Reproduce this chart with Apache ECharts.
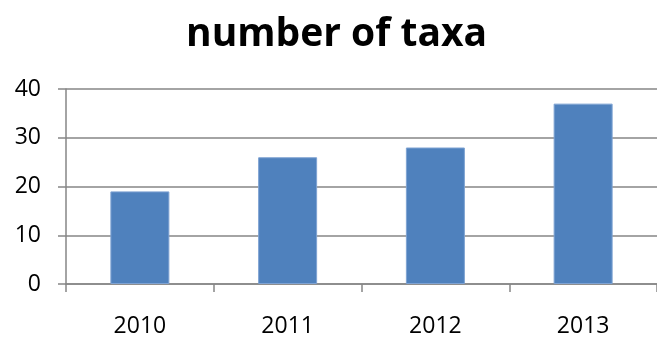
<!DOCTYPE html>
<html><head><meta charset="utf-8">
<script src="https://cdn.jsdelivr.net/npm/echarts@6/dist/echarts.min.js"></script>
<style>html,body{margin:0;padding:0;background:#fff}#c{width:657px;height:339px}</style>
</head><body><div id="c"></div>
<script>
const categories = ['2010', '2011', '2012', '2013'];
const taxaCounts = [19, 26, 28, 37];
const yTicks = [0, 10, 20, 30, 40];

const chart = echarts.init(document.getElementById('c'), null, {renderer: 'canvas'});
const lineCol = '#868686';
chart.setOption({
  animation: false,
  title: {
    text: 'number of taxa', left: 181, top: 10,
    textStyle: {fontFamily: 'Open Sans', fontWeight: 'bold', fontSize: 39, color: '#000'}
  },
  grid: {left: 66, top: 89, width: 594, bottom: 55},
  xAxis: {
    type: 'category', data: categories,
    axisLine: {lineStyle: {color: lineCol, width: 1.5}},
    axisTick: {show: true, length: 8, lineStyle: {color: lineCol, width: 1.5}},
    axisLabel: {fontFamily: 'Open Sans', fontSize: 23, color: '#000', margin: 31}
  },
  yAxis: {
    type: 'value', min: yTicks[0], max: yTicks[yTicks.length - 1], interval: 10,
    axisLine: {show: true, lineStyle: {color: lineCol, width: 1.5}},
    axisTick: {show: true, length: 8, lineStyle: {color: lineCol, width: 1.5}},
    splitLine: {lineStyle: {color: lineCol, width: 1.5}},
    axisLabel: {fontFamily: 'Open Sans', fontSize: 23, color: '#000', margin: 25}
  },
  series: [{
    type: 'bar', data: taxaCounts, barWidth: 59,
    itemStyle: {color: '#4F81BD', borderColor: '#7FA3D3', borderWidth: 1}
  }]
});
</script></body></html>
